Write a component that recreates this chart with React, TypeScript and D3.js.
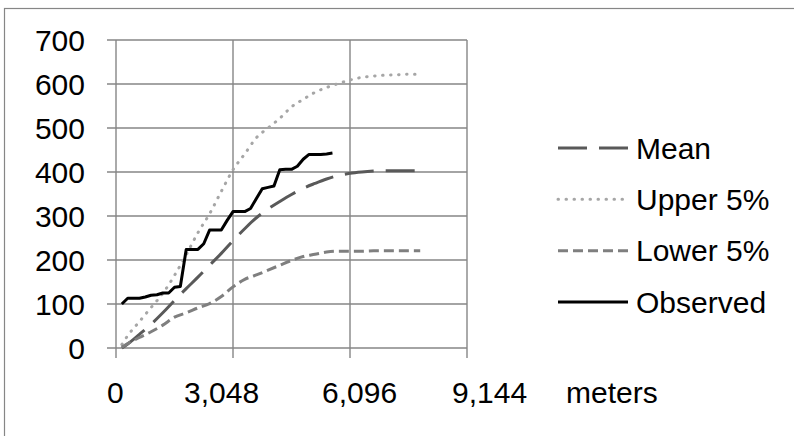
import React from "react";
import * as d3 from "d3";

// ---- data (x in meters) ----
const xTickValues = [0, 3048, 6096, 9144];
const xTickLabels = ["0", "3,048", "6,096", "9,144"];
const xUnitLabel = "meters";
const yTickValues = [0, 100, 200, 300, 400, 500, 600, 700];

const seriesNames = ["Mean", "Upper 5%", "Lower 5%", "Observed"];

const meanData: [number, number][] = [
  [152, 0], [305, 9], [610, 31], [914, 54], [1219, 80], [1524, 108], [1829, 135],
  [2134, 161], [2438, 188], [2743, 215], [3048, 244], [3353, 271], [3658, 296],
  [3962, 316], [4267, 333], [4572, 349], [4877, 363], [5182, 374], [5486, 384],
  [5791, 392], [6096, 397], [6401, 400], [6706, 402], [7010, 403], [7315, 403],
  [7620, 403], [7925, 403],
];

const upperData: [number, number][] = [
  [152, 8], [305, 28], [610, 60], [914, 92], [1219, 124], [1524, 165], [1829, 212],
  [2134, 262], [2438, 305], [2743, 356], [3048, 405], [3353, 441], [3658, 478],
  [3962, 500], [4267, 522], [4572, 548], [4877, 565], [5182, 581], [5486, 592],
  [5791, 601], [6096, 609], [6401, 615], [6706, 618], [7010, 620], [7315, 621],
  [7620, 622], [7925, 622],
];

const lowerData: [number, number][] = [
  [152, 2], [305, 10], [610, 24], [914, 37], [1219, 52], [1524, 70], [1829, 80],
  [2134, 91], [2438, 101], [2743, 117], [3048, 139], [3353, 156], [3658, 166],
  [3962, 177], [4267, 188], [4572, 199], [4877, 208], [5182, 213], [5486, 218],
  [5791, 220], [6096, 220], [6401, 220], [6706, 221], [7010, 221], [7315, 221],
  [7620, 221], [7925, 221],
];

const observedData: [number, number][] = [
  [152, 100], [305, 113], [457, 113], [610, 113], [762, 116], [914, 120], [1067, 121],
  [1219, 125], [1372, 125], [1524, 138], [1676, 140], [1829, 224], [1981, 224],
  [2134, 224], [2286, 237], [2438, 268], [2591, 268], [2743, 268], [2896, 290],
  [3048, 310], [3200, 310], [3353, 310], [3505, 317], [3658, 340], [3810, 362],
  [3962, 365], [4115, 368], [4267, 405], [4420, 406], [4572, 406], [4724, 413],
  [4877, 429], [5029, 440], [5182, 440], [5334, 440], [5486, 441], [5639, 443],
];

// ---- layout ----
const W = 794;
const H = 436;
const plot = { left: 116, right: 467, top: 40, bottom: 348 };
const tickLen = 9;
const FONT = "'Liberation Sans', Arial, sans-serif";
const gridColor = "#868686";

const styles = [
  { color: "#595959", width: 3, dash: "29 12", cap: "butt" },
  { color: "#a6a6a6", width: 3, dash: "0.5 7.5", cap: "round" },
  { color: "#7f7f7f", width: 3, dash: "10 5", cap: "butt" },
  { color: "#000000", width: 3, dash: "none", cap: "butt" },
];

// x-axis label "text box" left edges
const xLabelLeft = [107, 184, 322, 452];
const xUnitLeft = 566;
const xLabelBaseline = 403;

export default function App() {
  const x = d3.scaleLinear().domain([0, 9144]).range([plot.left, plot.right]);
  const y = d3.scaleLinear().domain([0, 700]).range([plot.bottom, plot.top]);

  const smooth = d3
    .line<[number, number]>()
    .x((d) => x(d[0]))
    .y((d) => y(d[1]))
    .curve(d3.curveMonotoneX);
  const straight = d3
    .line<[number, number]>()
    .x((d) => x(d[0]))
    .y((d) => y(d[1]));

  const paths = [
    smooth(meanData),
    smooth(upperData),
    smooth(lowerData),
    straight(observedData),
  ];

  const legendX0 = 558;
  const legendX1 = 628;
  const legendTextX = 636;
  const legendY = d3.scaleLinear().domain([0, 3]).range([148, 302]);

  return (
    <svg
      width={W}
      height={H}
      style={{ position: "absolute", left: 0, top: 0, background: "#fff" }}
      fontFamily={FONT}
    >
      <rect x={0} y={0} width={W} height={H} fill="#fff" />
      {/* chart border */}
      <rect x={4.5} y={8.5} width={W + 20} height={H + 20} fill="none" stroke={gridColor} strokeWidth={1.2} />

      {/* horizontal gridlines */}
      {yTickValues.map((v) => (
        <line
          key={"h" + v}
          x1={plot.left - tickLen}
          x2={plot.right}
          y1={y(v)}
          y2={y(v)}
          stroke={gridColor}
          strokeWidth={1.4}
        />
      ))}
      {/* vertical gridlines */}
      {xTickValues.map((v) => (
        <line
          key={"v" + v}
          x1={x(v)}
          x2={x(v)}
          y1={plot.top}
          y2={plot.bottom + tickLen + 1}
          stroke={gridColor}
          strokeWidth={1.4}
        />
      ))}

      {/* y tick labels */}
      {yTickValues.map((v) => (
        <text
          key={"yl" + v}
          x={85}
          y={y(v) + 10.8}
          textAnchor="end"
          fontSize={30}
          fill="#000"
        >
          {v}
        </text>
      ))}

      {/* x labels (text box) */}
      {xTickLabels.map((t, i) => (
        <text key={"xl" + t} x={xLabelLeft[i]} y={xLabelBaseline} fontSize={30} fill="#000">
          {t}
        </text>
      ))}
      <text x={xUnitLeft} y={xLabelBaseline} fontSize={30} fill="#000">
        {xUnitLabel}
      </text>

      {/* series */}
      {paths.map((p, i) => (
        <path
          key={"s" + i}
          d={p || ""}
          fill="none"
          stroke={styles[i].color}
          strokeWidth={styles[i].width}
          strokeDasharray={styles[i].dash}
          strokeLinecap={styles[i].cap as any}
          strokeLinejoin="round"
        />
      ))}

      {/* legend */}
      {seriesNames.map((n, i) => (
        <g key={"lg" + n}>
          <line
            x1={legendX0}
            x2={legendX1}
            y1={legendY(i)}
            y2={legendY(i)}
            stroke={styles[i].color}
            strokeWidth={styles[i].width}
            strokeDasharray={styles[i].dash}
            strokeLinecap={styles[i].cap as any}
          />
          <text x={legendTextX} y={legendY(i) + 10.7} fontSize={30} fill="#000">
            {n}
          </text>
        </g>
      ))}
    </svg>
  );
}
